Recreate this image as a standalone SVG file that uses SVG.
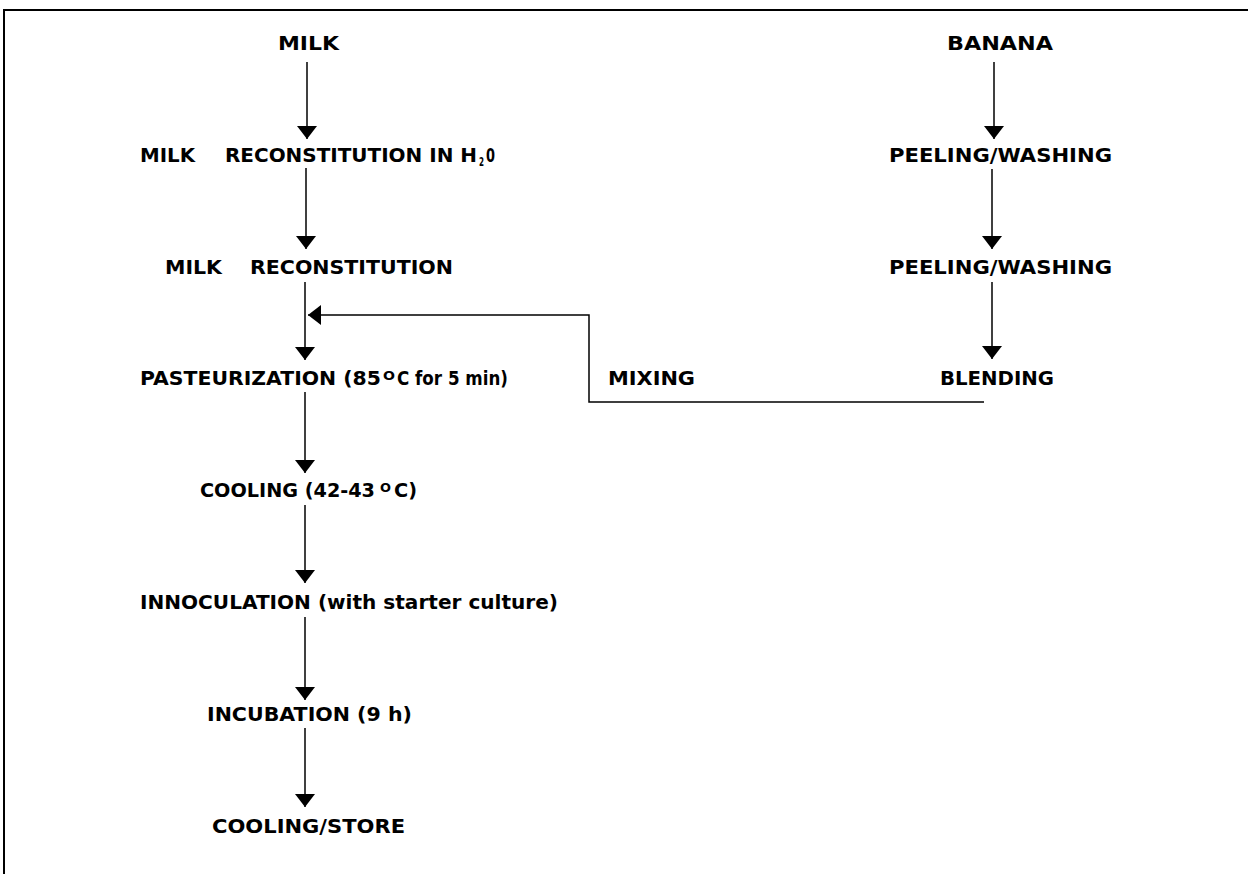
<svg xmlns="http://www.w3.org/2000/svg" width="1248" height="874" viewBox="0 0 1248 874">
<style>
  .t { font-family: "DejaVu Sans", "Verdana", sans-serif; font-weight: bold; font-size: 20px; fill: #000; }
  .s { font-family: "DejaVu Sans", "Verdana", sans-serif; font-weight: bold; font-size: 13px; fill: #000; }
  .c { stroke: #000; stroke-width: 1.5; fill: none; marker-end: url(#ah); }
</style>
<defs>
  <marker id="ah" markerUnits="userSpaceOnUse" markerWidth="14" markerHeight="20" refX="13" refY="10" orient="auto">
    <path d="M0,0 L13,10 L0,20 Z" fill="#000"/>
  </marker>
</defs>
<rect width="1248" height="874" fill="#fff"/>
<g id="frame">
  <path d="M1248,10 H4 V874" stroke="#000" stroke-width="2" fill="none"/>
</g>
<g id="connectors">
  <path class="c" d="M307,62 V139"/>
  <path class="c" d="M306,168 V249"/>
  <path class="c" d="M305,282 V360"/>
  <path class="c" d="M305,392 V473"/>
  <path class="c" d="M305,505 V583"/>
  <path class="c" d="M305,617 V700"/>
  <path class="c" d="M305,728 V807"/>
  <path class="c" d="M994,62 V139"/>
  <path class="c" d="M992,169 V249"/>
  <path class="c" d="M992,282 V359"/>
  <path class="c" d="M984,402 H589 V315 H308"/>
</g>
<g id="milk"><text class="t" x="278" y="50" textLength="61" lengthAdjust="spacingAndGlyphs">MILK</text></g>
<g id="reconstitution-h2o">
  <text class="t" x="140" y="162" textLength="55" lengthAdjust="spacingAndGlyphs">MILK</text>
  <text class="t" x="225" y="162" textLength="252" lengthAdjust="spacingAndGlyphs">RECONSTITUTION IN H</text>
  <text class="s" x="479" y="166" textLength="5" lengthAdjust="spacingAndGlyphs">2</text>
  <text class="t" x="486" y="162" textLength="9" lengthAdjust="spacingAndGlyphs">0</text>
</g>
<g id="reconstitution">
  <text class="t" x="165" y="274" textLength="57" lengthAdjust="spacingAndGlyphs">MILK</text>
  <text class="t" x="250" y="274" textLength="203" lengthAdjust="spacingAndGlyphs">RECONSTITUTION</text>
</g>
<g id="pasteurization">
  <text class="t" x="140" y="385" textLength="241" lengthAdjust="spacingAndGlyphs">PASTEURIZATION (85</text>
  <text class="s" x="383" y="380" textLength="12" lengthAdjust="spacingAndGlyphs">O</text>
  <text class="t" x="397" y="385" textLength="111" lengthAdjust="spacingAndGlyphs">C for 5 min)</text>
</g>
<g id="mixing"><text class="t" x="608" y="385" textLength="87" lengthAdjust="spacingAndGlyphs">MIXING</text></g>
<g id="cooling">
  <text class="t" x="200" y="497" textLength="175" lengthAdjust="spacingAndGlyphs">COOLING (42-43</text>
  <text class="s" x="380" y="492" textLength="11" lengthAdjust="spacingAndGlyphs">O</text>
  <text class="t" x="394" y="497" textLength="23" lengthAdjust="spacingAndGlyphs">C)</text>
</g>
<g id="innoculation"><text class="t" x="140" y="609" textLength="418" lengthAdjust="spacingAndGlyphs">INNOCULATION (with starter culture)</text></g>
<g id="incubation"><text class="t" x="207" y="721" textLength="205" lengthAdjust="spacingAndGlyphs">INCUBATION (9 h)</text></g>
<g id="cooling-store"><text class="t" x="212" y="833" textLength="193" lengthAdjust="spacingAndGlyphs">COOLING/STORE</text></g>
<g id="banana"><text class="t" x="947" y="50" textLength="106" lengthAdjust="spacingAndGlyphs">BANANA</text></g>
<g id="peeling1"><text class="t" x="889" y="162" textLength="223" lengthAdjust="spacingAndGlyphs">PEELING/WASHING</text></g>
<g id="peeling2"><text class="t" x="889" y="274" textLength="223" lengthAdjust="spacingAndGlyphs">PEELING/WASHING</text></g>
<g id="blending"><text class="t" x="940" y="385" textLength="114" lengthAdjust="spacingAndGlyphs">BLENDING</text></g>
</svg>
